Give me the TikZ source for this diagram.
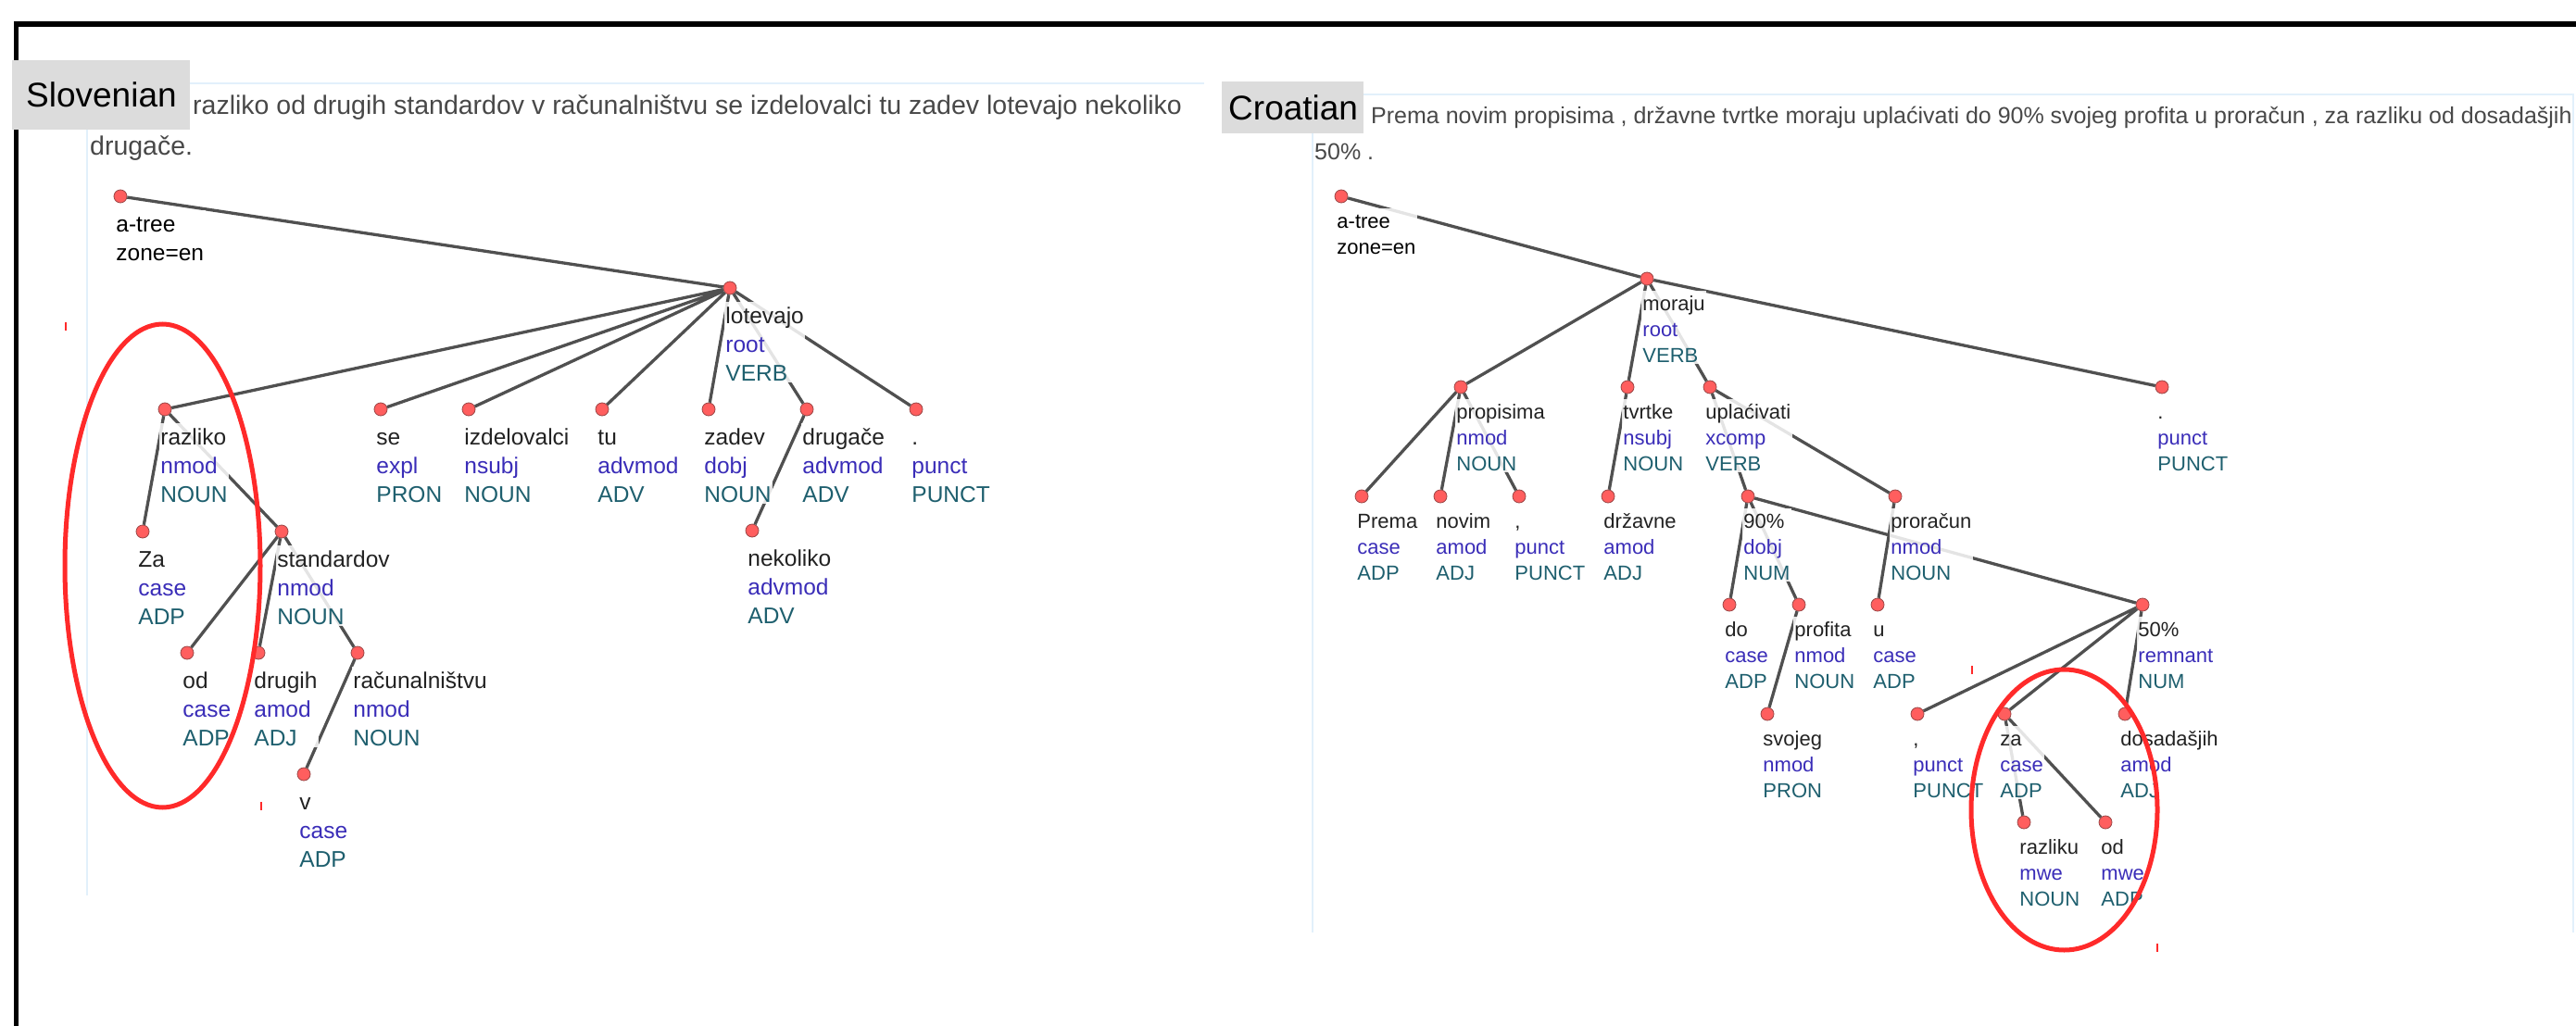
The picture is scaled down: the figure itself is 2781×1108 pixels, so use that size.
\documentclass[tikz,border=0pt]{standalone}
\usepackage{fontspec}
\setmainfont{Liberation Sans}
\usepackage{tikz}
\usetikzlibrary{positioning}
\usepackage{xcolor}

\definecolor{depgray}{HTML}{505050}
\definecolor{dotred}{HTML}{FF5E5E}
\definecolor{dotrim}{HTML}{9A4545}
\definecolor{relcol}{HTML}{3A2DB8}
\definecolor{poscol}{HTML}{1E5F6E}
\definecolor{wordcol}{HTML}{222222}
\definecolor{sentcol}{HTML}{484848}
\definecolor{panelcol}{HTML}{E2F0FB}
\definecolor{tabgray}{HTML}{DCDCDC}
\definecolor{ovalred}{HTML}{FF2A2A}

\newcommand{\wrp}[3]{\strut\textcolor{wordcol}{#1}\\\textcolor{relcol}{#2}\\\textcolor{poscol}{#3}}

\begin{document}
\begin{tikzpicture}[x=1pt,y=-1pt,
  dot/.style={circle,minimum size=14pt,inner sep=0pt,fill=dotred,draw=dotrim,line width=0.8pt},
  dep/.style={draw=depgray,line width=3.3pt}]
\tikzstyle{slab}=[inner sep=1.5pt,align=left,fill=white,fill opacity=0.85,text opacity=1,font=\fontsize{24.5}{31}\selectfont]
\tikzstyle{clab}=[inner sep=1.5pt,align=left,fill=white,fill opacity=0.85,text opacity=1,font=\fontsize{22}{28}\selectfont]
\tikzstyle{tab}=[fill=tabgray,draw=none]
\useasboundingbox (0,0) rectangle (2781,1108);

% frame and panels
\draw[line width=6pt] (15,26) -- (2781,26);
\draw[line width=5pt] (17.5,23) -- (17.5,1108);
\draw[panelcol,line width=2pt] (94,967) -- (94,90) -- (1300,90);
\draw[panelcol,line width=2pt] (1417,1007) -- (1417,102) -- (2778,102) -- (2778,1007);

% sentences
\node[anchor=base west,inner sep=0pt,text=sentcol,font=\fontsize{28.5}{34}\selectfont] (ssent) at (208,123) {razliko od drugih standardov v računalništvu se izdelovalci tu zadev lotevajo nekoliko};
\node[anchor=base west,inner sep=0pt,text=sentcol,font=\fontsize{28.5}{34}\selectfont] (ssentb) at (97,167) {drugače.};
\node[anchor=base west,inner sep=0pt,text=sentcol,font=\fontsize{25}{30}\selectfont] (csent) at (1480,133) {Prema novim propisima , državne tvrtke moraju uplaćivati do 90\% svojeg profita u proračun , za razliku od dosadašjih};
\node[anchor=base west,inner sep=0pt,text=sentcol,font=\fontsize{25}{30}\selectfont] (csentb) at (1419,172) {50\% .};

% language tabs
\fill[tab] (13,65) rectangle (205,140);
\node[anchor=base west,inner sep=0pt,font=\fontsize{37}{44}\selectfont] (slang) at (28,115) {Slovenian};
\fill[tab] (1319,88) rectangle (1472,144);
\node[anchor=base west,inner sep=0pt,font=\fontsize{37}{44}\selectfont] (clang) at (1326,129) {Croatian};

% Slovenian tree
\node[dot] (satree) at (130,212) {};
\node[dot] (slotevajo) at (788,311) {};
\node[dot] (srazliko) at (178,442) {};
\node[dot] (sse) at (411,442) {};
\node[dot] (sizdelovalci) at (506,442) {};
\node[dot] (stu) at (650,442) {};
\node[dot] (szadev) at (765,442) {};
\node[dot] (sdrugace) at (871,442) {};
\node[dot] (spunct) at (989,442) {};
\node[dot] (sza) at (154,574) {};
\node[dot] (sstandardov) at (304,574) {};
\node[dot] (snekoliko) at (812,573) {};
\node[dot] (sod) at (202,705) {};
\node[dot] (sdrugih) at (279,705) {};
\node[dot] (sracun) at (386,705) {};
\node[dot] (sv) at (328,836) {};

\draw[dep] (satree) -- (slotevajo);
\draw[dep] (slotevajo) -- (srazliko) (slotevajo) -- (sse) (slotevajo) -- (sizdelovalci)
  (slotevajo) -- (stu) (slotevajo) -- (szadev) (slotevajo) -- (sdrugace) (slotevajo) -- (spunct);
\draw[dep] (srazliko) -- (sza) (srazliko) -- (sstandardov);
\draw[dep] (sstandardov) -- (sod) (sstandardov) -- (sdrugih) (sstandardov) -- (sracun);
\draw[dep] (sracun) -- (sv);
\draw[dep] (sdrugace) -- (snekoliko);

\node[slab,below right=10pt and -11.5pt of satree] (satree-t) {\strut a-tree\\zone=en};
\node[slab,below right=10pt and -11.5pt of slotevajo] (slotevajo-t) {\wrp{lotevajo}{root}{VERB}};
\node[slab,below right=10pt and -11.5pt of srazliko] (srazliko-t) {\wrp{razliko}{nmod}{NOUN}};
\node[slab,below right=10pt and -11.5pt of sse] (sse-t) {\wrp{se}{expl}{PRON}};
\node[slab,below right=10pt and -11.5pt of sizdelovalci] (sizdelovalci-t) {\wrp{izdelovalci}{nsubj}{NOUN}};
\node[slab,below right=10pt and -11.5pt of stu] (stu-t) {\wrp{tu}{advmod}{ADV}};
\node[slab,below right=10pt and -11.5pt of szadev] (szadev-t) {\wrp{zadev}{dobj}{NOUN}};
\node[slab,below right=10pt and -11.5pt of sdrugace] (sdrugace-t) {\wrp{drugače}{advmod}{ADV}};
\node[slab,below right=10pt and -11.5pt of spunct] (spunct-t) {\wrp{.}{punct}{PUNCT}};
\node[slab,below right=10pt and -11.5pt of sza] (sza-t) {\wrp{Za}{case}{ADP}};
\node[slab,below right=10pt and -11.5pt of sstandardov] (sstandardov-t) {\wrp{standardov}{nmod}{NOUN}};
\node[slab,below right=10pt and -11.5pt of snekoliko] (snekoliko-t) {\wrp{nekoliko}{advmod}{ADV}};
\node[slab,below right=10pt and -11.5pt of sod] (sod-t) {\wrp{od}{case}{ADP}};
\node[slab,below right=10pt and -11.5pt of sdrugih] (sdrugih-t) {\wrp{drugih}{amod}{ADJ}};
\node[slab,below right=10pt and -11.5pt of sracun] (sracun-t) {\wrp{računalništvu}{nmod}{NOUN}};
\node[slab,below right=10pt and -11.5pt of sv] (sv-t) {\wrp{v}{case}{ADP}};

% Croatian tree
\node[dot] (catree) at (1448,212) {};
\node[dot] (cmoraju) at (1778,301) {};
\node[dot] (cpropisima) at (1577,418) {};
\node[dot] (ctvrtke) at (1757,418) {};
\node[dot] (cuplac) at (1846,418) {};
\node[dot] (cpunct) at (2334,418) {};
\node[dot] (cprema) at (1470,536) {};
\node[dot] (cnovim) at (1555,536) {};
\node[dot] (ccomma) at (1640,536) {};
\node[dot] (cdrzavne) at (1736,536) {};
\node[dot] (cninety) at (1887,536) {};
\node[dot] (cproracun) at (2046,536) {};
\node[dot] (cdo) at (1867,653) {};
\node[dot] (cprofita) at (1942,653) {};
\node[dot] (cu) at (2027,653) {};
\node[dot] (cfifty) at (2313,653) {};
\node[dot] (csvojeg) at (1908,771) {};
\node[dot] (ccommab) at (2070,771) {};
\node[dot] (cza) at (2164,771) {};
\node[dot] (cdosad) at (2294,771) {};
\node[dot] (crazliku) at (2185,888) {};
\node[dot] (cod) at (2273,888) {};

\draw[dep] (catree) -- (cmoraju);
\draw[dep] (cmoraju) -- (cpropisima) (cmoraju) -- (ctvrtke) (cmoraju) -- (cuplac) (cmoraju) -- (cpunct);
\draw[dep] (cpropisima) -- (cprema) (cpropisima) -- (cnovim) (cpropisima) -- (ccomma);
\draw[dep] (ctvrtke) -- (cdrzavne);
\draw[dep] (cuplac) -- (cninety) (cuplac) -- (cproracun);
\draw[dep] (cninety) -- (cdo) (cninety) -- (cprofita) (cninety) -- (cfifty);
\draw[dep] (cprofita) -- (csvojeg);
\draw[dep] (cproracun) -- (cu);
\draw[dep] (cfifty) -- (ccommab) (cfifty) -- (cza) (cfifty) -- (cdosad);
\draw[dep] (cza) -- (crazliku) (cza) -- (cod);

\node[clab,below right=8pt and -11.5pt of catree] (catree-t) {\strut a-tree\\zone=en};
\node[clab,below right=8pt and -11.5pt of cmoraju] (cmoraju-t) {\wrp{moraju}{root}{VERB}};
\node[clab,below right=8pt and -11.5pt of cpropisima] (cpropisima-t) {\wrp{propisima}{nmod}{NOUN}};
\node[clab,below right=8pt and -11.5pt of ctvrtke] (ctvrtke-t) {\wrp{tvrtke}{nsubj}{NOUN}};
\node[clab,below right=8pt and -11.5pt of cuplac] (cuplac-t) {\wrp{uplaćivati}{xcomp}{VERB}};
\node[clab,below right=8pt and -11.5pt of cpunct] (cpunct-t) {\wrp{.}{punct}{PUNCT}};
\node[clab,below right=8pt and -11.5pt of cprema] (cprema-t) {\wrp{Prema}{case}{ADP}};
\node[clab,below right=8pt and -11.5pt of cnovim] (cnovim-t) {\wrp{novim}{amod}{ADJ}};
\node[clab,below right=8pt and -11.5pt of ccomma] (ccomma-t) {\wrp{,}{punct}{PUNCT}};
\node[clab,below right=8pt and -11.5pt of cdrzavne] (cdrzavne-t) {\wrp{državne}{amod}{ADJ}};
\node[clab,below right=8pt and -11.5pt of cninety] (cninety-t) {\wrp{90\%}{dobj}{NUM}};
\node[clab,below right=8pt and -11.5pt of cproracun] (cproracun-t) {\wrp{proračun}{nmod}{NOUN}};
\node[clab,below right=8pt and -11.5pt of cdo] (cdo-t) {\wrp{do}{case}{ADP}};
\node[clab,below right=8pt and -11.5pt of cprofita] (cprofita-t) {\wrp{profita}{nmod}{NOUN}};
\node[clab,below right=8pt and -11.5pt of cu] (cu-t) {\wrp{u}{case}{ADP}};
\node[clab,below right=8pt and -11.5pt of cfifty] (cfifty-t) {\wrp{50\%}{remnant}{NUM}};
\node[clab,below right=8pt and -11.5pt of csvojeg] (csvojeg-t) {\wrp{svojeg}{nmod}{PRON}};
\node[clab,below right=8pt and -11.5pt of ccommab] (ccommab-t) {\wrp{,}{punct}{PUNCT}};
\node[clab,below right=8pt and -11.5pt of cza] (cza-t) {\wrp{za}{case}{ADP}};
\node[clab,below right=8pt and -11.5pt of cdosad] (cdosad-t) {\wrp{dosadašjih}{amod}{ADJ}};
\node[clab,below right=8pt and -11.5pt of crazliku] (crazliku-t) {\wrp{razliku}{mwe}{NOUN}};
\node[clab,below right=8pt and -11.5pt of cod] (cod-t) {\wrp{od}{mwe}{ADP}};

% red marks
\draw[ovalred,line width=5pt] (175.5,611) ellipse [x radius=105.5pt,y radius=261pt];
\draw[ovalred,line width=5pt] (2228.5,874.5) ellipse [x radius=100.5pt,y radius=151.5pt];
\draw[ovalred,line width=1.5pt] (71,348) -- (71,357) (282,866) -- (282,875);
\draw[ovalred,line width=1.5pt] (2129,719) -- (2129,728) (2329,1019) -- (2329,1028);
\end{tikzpicture}
\end{document}
